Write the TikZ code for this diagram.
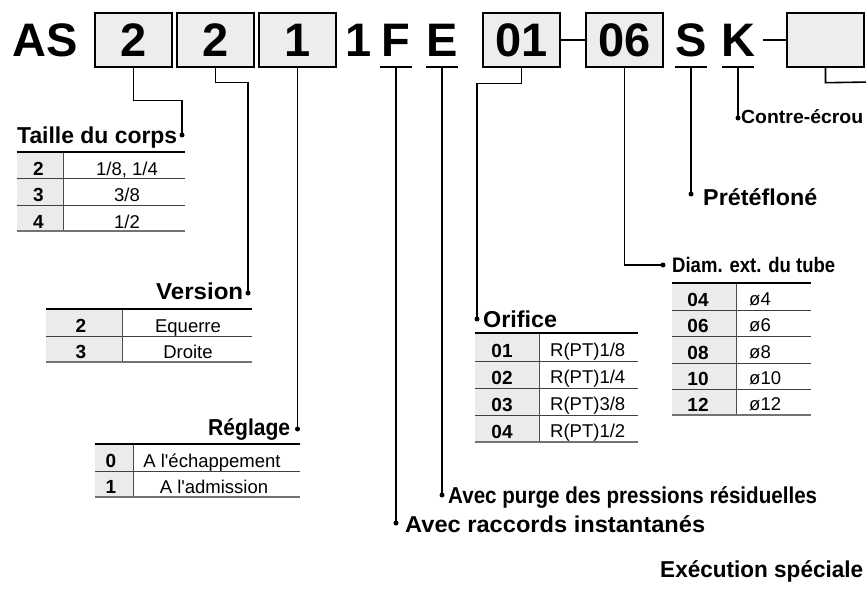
\documentclass[tikz,border=0pt]{standalone}
\usepackage{fontspec}
\setmainfont{Liberation Sans}
\usepackage{graphicx}
\newcommand{\lab}[2]{\resizebox{#1pt}{\height}{#2}}
\newcommand{\codefont}{\fontsize{47}{50}\selectfont\bfseries}
\newcommand{\labfont}{\fontsize{23}{26}\selectfont\bfseries}
\newcommand{\labfontsm}{\fontsize{21}{24}\selectfont\bfseries}
\newcommand{\labfontxs}{\fontsize{19}{22}\selectfont\bfseries}
\newcommand{\keyfont}{\fontsize{19}{21}\selectfont\bfseries}
\newcommand{\valfont}{\fontsize{18.5}{21}\selectfont}
\begin{document}
\begin{tikzpicture}[x=1pt,y=-1pt,
  codebox/.style={draw=black, line width=1.4pt, fill=black!7, minimum width=77pt, minimum height=54pt, inner sep=0pt, font=\codefont},
  codeletter/.style={anchor=base, inner sep=0pt, font=\codefont},
  conn/.style={line width=1.6pt, draw=black},
  ulline/.style={line width=1.5pt, draw=black},
  ul/.style={inner sep=0pt, minimum width=32pt, minimum height=0pt},
  dot/.style={circle, fill=black, inner sep=0pt, minimum size=5pt},
  lbl/.style={anchor=base west, inner sep=0pt, font=\labfont},
  keytxt/.style={anchor=base, inner sep=0pt, font=\keyfont},
  valtxt/.style={anchor=base, inner sep=0pt, font=\valfont},
  valtxtl/.style={anchor=base west, inner sep=0pt, font=\valfont},
  keyfill/.style={fill=black!8},
  topline/.style={line width=2.2pt, draw=black},
  rowline/.style={line width=0.9pt, draw=black!75},
  botline/.style={line width=1.4pt, draw=black!55},
  divline/.style={line width=1pt, draw=black!70}
]
\clip (0,0) rectangle (866,615);
\fill[white] (0,0) rectangle (866,615);

% ---------- code line ----------
\node[codeletter] (nAS) at (45,57) {AS};
\node[codebox] (b1) at (133.5,40) {2};
\node[codebox] (b2) at (215.5,40) {2};
\node[codebox] (b3) at (297.5,40) {1};
\node[codeletter] (n1) at (359,57) {1};
\node[codeletter] (nF) at (396,57) {F};
\node[codeletter] (nE) at (442,57) {E};
\node[codebox] (b01) at (521.5,40) {01};
\node[codebox] (b06) at (624.5,40) {06};
\node[codeletter] (nS) at (691,57) {S};
\node[codeletter] (nK) at (738,57) {K};
\node[codebox] (bL) at (825.5,40) {};

\draw[conn] (b01.east) -- (b06.west);
\coordinate (kd) at (763,40);
\draw[conn] (kd) -- (bL.west);

\node[ul] (uF) at (396,67) {};
\node[ul] (uE) at (442,67) {};
\node[ul] (uS) at (691,67) {};
\node[ul] (uK) at (738,67) {};
\foreach \u in {uF,uE,uS,uK} \draw[ulline] (\u.west) -- (\u.east);

% ---------- dots ----------
\node[dot] (dTaille) at (182,135) {};
\node[dot] (dVersion) at (248,293) {};
\node[dot] (dReglage) at (297.5,429) {};
\node[dot] (dOrifice) at (477,319) {};
\node[dot] (dDiam) at (663,265) {};
\node[dot] (dPret) at (691,194) {};
\node[dot] (dContre) at (738,118) {};
\node[dot] (dPurge) at (442,495) {};
\node[dot] (dRacc) at (396,523) {};
\coordinate (eR) at (872,82);

% ---------- connectors ----------
\draw[conn] (b1.south) -- ++(0,33) -| (dTaille.center);
\draw[conn] (b2.south) -- ++(0,15) -| (dVersion.center);
\draw[conn] (b3.south) -- (dReglage.center);
\draw[conn] (b01.south) -- ++(0,16) -| (dOrifice.center);
\draw[conn] (b06.south) |- (dDiam.center);
\draw[conn] (uS.center) -- (dPret.center);
\draw[conn] (uK.center) -- (dContre.center);
\draw[conn] (uE.center) -- (dPurge.center);
\draw[conn] (uF.center) -- (dRacc.center);
\draw[conn] (bL.south) -- ++(0,15) -- (eR);

% ---------- labels ----------
\node[lbl] (lTaille) at (17,143) {\lab{160}{Taille du corps}};
\node[lbl] (lVersion) at (156,299) {\lab{87}{Version}};
\node[lbl] (lReglage) at (208,435) {\lab{82}{Réglage}};
\node[lbl] (lOrifice) at (483,327) {\lab{74}{Orifice}};
\node[lbl, font=\labfontsm] (lDiam) at (672,272) {\lab{163}{Diam. ext. du tube}};
\node[lbl] (lPret) at (703,205) {\lab{114}{Prétéfloné}};
\node[lbl, font=\labfontxs] (lContre) at (741,124) {\lab{122}{Contre-écrou}};
\node[lbl] (lPurge) at (448,503) {\lab{369}{Avec purge des pressions résiduelles}};
\node[lbl] (lRacc) at (405,532) {\lab{300}{Avec raccords instantanés}};
\node[lbl] (lExec) at (660,577) {\lab{203}{Exécution spéciale}};

% ---------- table: Taille du corps ----------
\fill[keyfill] (17,152) rectangle (63,231);
\draw[rowline] (17,178) -- (185,178);
\draw[rowline] (17,205) -- (185,205);
\draw[divline] (63,152) -- (63,231);
\draw[topline] (17,152) -- (185,152);
\draw[botline] (17,231) -- (185,231);
\node[keytxt] (tk1) at (38.5,175) {2};
\node[keytxt] (tk2) at (38.5,201.5) {3};
\node[keytxt] (tk3) at (38.5,228) {4};
\node[valtxt] (tv1) at (127,175) {1/8, 1/4};
\node[valtxt] (tv2) at (127,201.5) {3/8};
\node[valtxt] (tv3) at (127,228) {1/2};

% ---------- table: Version ----------
\fill[keyfill] (46,309) rectangle (122,362);
\draw[rowline] (46,336) -- (252,336);
\draw[divline] (122,309) -- (122,362);
\draw[topline] (46,309) -- (252,309);
\draw[botline] (46,362) -- (252,362);
\node[keytxt] (vk1) at (81,332) {2};
\node[keytxt] (vk2) at (81,358.5) {3};
\node[valtxt] (vv1) at (188,332) {Equerre};
\node[valtxt] (vv2) at (188,358.5) {Droite};

% ---------- table: Réglage ----------
\fill[keyfill] (95,444) rectangle (133,497);
\draw[rowline] (95,471) -- (300,471);
\draw[divline] (133,444) -- (133,497);
\draw[topline] (95,444) -- (300,444);
\draw[botline] (95,497) -- (300,497);
\node[keytxt] (rk1) at (111,467) {0};
\node[keytxt] (rk2) at (111,493.5) {1};
\node[valtxt] (rv1) at (212,467) {A l\textquotesingle échappement};
\node[valtxt] (rv2) at (214,493.5) {A l\textquotesingle admission};

% ---------- table: Orifice ----------
\fill[keyfill] (475,333) rectangle (539,442);
\draw[rowline] (475,361) -- (638,361);
\draw[rowline] (475,388) -- (638,388);
\draw[rowline] (475,415) -- (638,415);
\draw[divline] (539,333) -- (539,442);
\draw[topline] (475,333) -- (638,333);
\draw[botline] (475,442) -- (638,442);
\node[keytxt] (ok1) at (502,357) {01};
\node[keytxt] (ok2) at (502,384) {02};
\node[keytxt] (ok3) at (502,411) {03};
\node[keytxt] (ok4) at (502,438) {04};
\node[valtxtl] (ov1) at (550,356) {R(PT)1/8};
\node[valtxtl] (ov2) at (550,383) {R(PT)1/4};
\node[valtxtl] (ov3) at (550,410) {R(PT)3/8};
\node[valtxtl] (ov4) at (550,437) {R(PT)1/2};

% ---------- table: Diam. ext. du tube ----------
\fill[keyfill] (672,283) rectangle (736,415);
\draw[rowline] (672,310) -- (811,310);
\draw[rowline] (672,336) -- (811,336);
\draw[rowline] (672,363) -- (811,363);
\draw[rowline] (672,389) -- (811,389);
\draw[divline] (736,283) -- (736,415);
\draw[topline] (672,283) -- (811,283);
\draw[botline] (672,415) -- (811,415);
\node[keytxt] (dk1) at (698,306) {04};
\node[keytxt] (dk2) at (698,332) {06};
\node[keytxt] (dk3) at (698,359) {08};
\node[keytxt] (dk4) at (698,385) {10};
\node[keytxt] (dk5) at (698,411) {12};
\node[valtxtl] (dv1) at (749,305) {ø4};
\node[valtxtl] (dv2) at (749,331) {ø6};
\node[valtxtl] (dv3) at (749,358) {ø8};
\node[valtxtl] (dv4) at (749,384) {ø10};
\node[valtxtl] (dv5) at (749,410) {ø12};
\end{tikzpicture}
\end{document}
